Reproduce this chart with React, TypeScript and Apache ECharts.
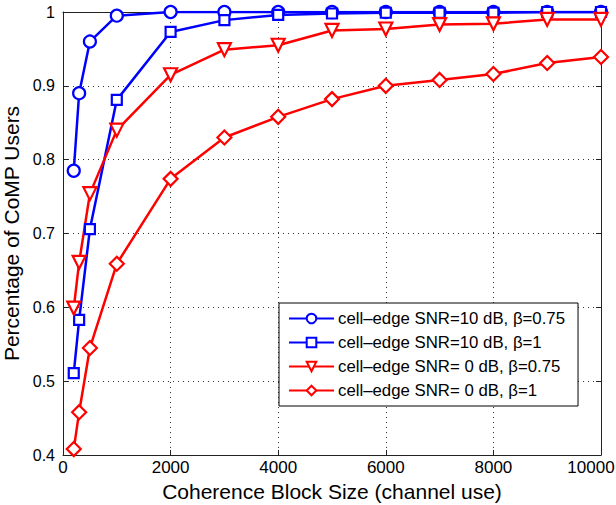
import React, { useEffect, useRef } from "react";
import * as echarts from "echarts";

const blockSizes = [200, 300, 500, 1000, 2000, 3000, 4000, 5000, 6000, 7000, 8000, 9000, 10000];
const snr10b075 = [0.785, 0.89, 0.96, 0.995, 1.0, 1.0, 1.0, 1.0, 1.0, 1.0, 1.0, 1.0, 1.0];
const snr10b1 = [0.511, 0.583, 0.706, 0.881, 0.973, 0.989, 0.996, 0.998, 0.999, 0.999, 0.999, 1.0, 1.0];
const snr0b075 = [0.599, 0.661, 0.754, 0.84, 0.915, 0.949, 0.955, 0.975, 0.977, 0.983, 0.984, 0.99, 0.99];
const snr0b1 = [0.408, 0.458, 0.545, 0.659, 0.774, 0.83, 0.858, 0.882, 0.9, 0.908, 0.916, 0.931, 0.939];
const seriesNames = [
  "cell\u2013edge SNR=10 dB, \u03b2=0.75",
  "cell\u2013edge SNR=10 dB, \u03b2=1",
  "cell\u2013edge SNR= 0 dB, \u03b2=0.75",
  "cell\u2013edge SNR= 0 dB, \u03b2=1",
];

const FONT = "Liberation Sans";

export default function App() {
  const ref = useRef<HTMLDivElement>(null);
  useEffect(() => {
    if (!ref.current) return;
    const chart = echarts.init(ref.current, undefined, { renderer: "svg" });
    const mk = (name: string, vals: number[], color: string, symbol: string, rot = 0, size = 11) => ({
      name,
      type: "line",
      data: blockSizes.map((x, i) => [x, vals[i]]),
      symbol,
      symbolSize: size,
      symbolRotate: rot,
      showAllSymbol: true,
      lineStyle: { color, width: 2.5 },
      itemStyle: { color: "#fff", borderColor: color, borderWidth: 2.2 },
      color,
    });
    const tickStyle = { show: true, inside: true, length: 5, lineStyle: { color: "#222", width: 1 } };
    chart.setOption({
      animation: false,
      backgroundColor: "#fff",
      textStyle: { fontFamily: FONT },
      grid: { left: 63, right: 15, top: 12, bottom: 50, show: false, containLabel: false, outerBoundsMode: "none" },
      legend: {
        orient: "vertical",
        left: 279,
        top: 303,
        padding: [7, 13, 7, 9],
        itemGap: 7,
        itemWidth: 45,
        itemHeight: 12,
        borderColor: "#000",
        borderWidth: 1,
        borderRadius: 0,
        backgroundColor: "#fff",
        textStyle: { fontFamily: FONT, fontSize: 16.8, color: "#000", padding: [0, 0, 0, -1] },
        data: seriesNames,
      },
      xAxis: [
        {
          type: "value",
          min: 0,
          max: 10000,
          interval: 2000,
          name: "Coherence Block Size (channel use)",
          nameLocation: "middle",
          nameGap: 23,
          nameTextStyle: { fontFamily: FONT, fontSize: 21, color: "#000" },
          axisLine: { show: true, lineStyle: { color: "#222", width: 1 } },
          axisTick: tickStyle,
          axisLabel: {
            fontFamily: FONT,
            fontSize: 17,
            color: "#000",
            margin: 4,
            formatter: (v: number) => (v === 10000 ? "{m|" + v + "}" : String(v)),
            rich: {
              m: { fontFamily: FONT, fontSize: 17, color: "#000", padding: [0, 20, 0, 0] },
            },
          },
          splitLine: { show: true, lineStyle: { color: "#333", type: [1, 4], width: 1 } },
        },
        {
          type: "value",
          position: "top",
          min: 0,
          max: 10000,
          interval: 2000,
          axisLine: { show: true, onZero: false, lineStyle: { color: "#222", width: 1 } },
          axisTick: tickStyle,
          axisLabel: { show: false },
          splitLine: { show: false },
        },
      ],
      yAxis: [
        {
          type: "value",
          min: 0.4,
          max: 1,
          interval: 0.1,
          name: "Percentage of CoMP Users",
          nameLocation: "middle",
          nameGap: 36,
          nameTextStyle: { fontFamily: FONT, fontSize: 21, color: "#000" },
          axisLine: { show: true, lineStyle: { color: "#222", width: 1 } },
          axisTick: tickStyle,
          axisLabel: {
            fontFamily: FONT,
            fontSize: 16,
            color: "#000",
            margin: 8,
            formatter: (v: number) => String(Math.round(v * 10) / 10),
          },
          splitLine: { show: true, lineStyle: { color: "#333", type: [1, 4], width: 1 } },
        },
        {
          type: "value",
          position: "right",
          min: 0.4,
          max: 1,
          interval: 0.1,
          axisLine: { show: true, onZero: false, lineStyle: { color: "#222", width: 1 } },
          axisTick: tickStyle,
          axisLabel: { show: false },
          splitLine: { show: false },
        },
      ],
      series: [
        mk(seriesNames[0], snr10b075, "#0000ff", "circle", 0, 12),
        mk(seriesNames[1], snr10b1, "#0000ff", "rect", 0, 10),
        mk(seriesNames[2], snr0b075, "#ff0000", "triangle", 180, 13),
        mk(seriesNames[3], snr0b1, "#ff0000", "diamond", 0, 14),
      ],
    });
    return () => chart.dispose();
  }, []);
  return (
    <div
      ref={ref}
      style={{ position: "absolute", left: 0, top: 0, width: 616, height: 505 }}
    />
  );
}
